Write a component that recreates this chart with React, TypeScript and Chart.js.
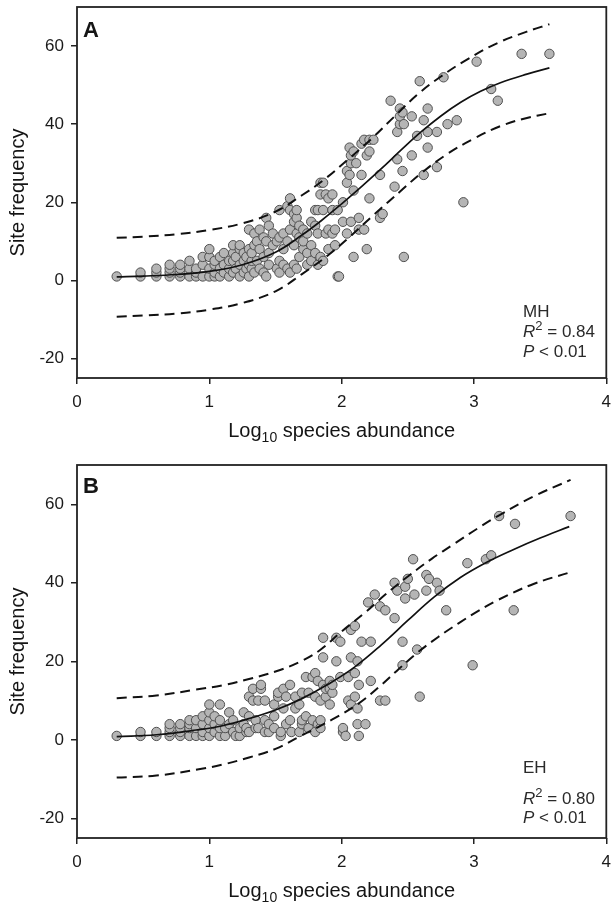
import React, { useEffect, useRef } from "react";
import { Chart, registerables } from "chart.js";

Chart.register(...registerables);

const FONT = '"Liberation Sans", Arial, Helvetica, sans-serif';

const xTicks = [0, 1, 2, 3, 4];
const yTicks = [-20, 0, 20, 40, 60];

// ---------- Panel A (MH) ----------
const pointsA: [number, number][] = [
  [0.30, 1],
  [0.48, 1], [0.48, 2],
  [0.60, 1], [0.60, 2], [0.60, 3],
  [0.70, 1], [0.70, 2], [0.70, 3], [0.70, 4],
  [0.78, 1], [0.78, 2], [0.78, 3], [0.78, 4],
  [0.85, 1], [0.85, 3], [0.85, 5],
  [0.90, 1], [0.90, 2], [0.90, 3],
  [0.95, 1], [0.95, 4], [0.95, 6],
  [1.00, 1], [1.00, 3], [1.00, 6], [1.00, 8],
  [1.04, 1], [1.04, 2], [1.04, 4], [1.04, 5],
  [1.08, 1], [1.08, 3], [1.08, 6],
  [1.11, 2], [1.11, 4], [1.11, 7],
  [1.15, 1], [1.15, 3], [1.15, 5],
  [1.18, 2], [1.18, 5], [1.18, 7], [1.18, 9],
  [1.20, 3], [1.20, 6],
  [1.23, 1], [1.23, 4], [1.23, 8], [1.23, 9],
  [1.26, 2], [1.26, 5], [1.26, 7],
  [1.28, 3], [1.28, 6],
  [1.30, 1], [1.30, 4], [1.30, 8], [1.30, 13],
  [1.32, 3], [1.32, 5], [1.32, 7],
  [1.34, 2], [1.34, 9], [1.34, 12],
  [1.36, 5], [1.36, 10],
  [1.38, 3], [1.38, 8], [1.38, 13],
  [1.41, 2], [1.41, 6], [1.41, 11],
  [1.43, 1], [1.43, 10], [1.43, 16],
  [1.45, 4], [1.45, 7], [1.45, 14],
  [1.48, 9], [1.48, 12],
  [1.51, 3], [1.51, 10],
  [1.53, 2], [1.53, 5], [1.53, 11], [1.53, 18],
  [1.56, 4], [1.56, 8], [1.56, 12],
  [1.59, 3], [1.59, 10], [1.59, 19],
  [1.61, 2], [1.61, 13], [1.61, 18], [1.61, 21],
  [1.64, 4], [1.64, 9], [1.64, 15], [1.64, 17],
  [1.66, 3], [1.66, 12], [1.66, 16], [1.66, 18],
  [1.68, 6], [1.68, 11], [1.68, 14],
  [1.71, 8], [1.71, 10], [1.71, 13],
  [1.74, 4], [1.74, 7], [1.74, 12],
  [1.77, 5], [1.77, 9], [1.77, 15],
  [1.80, 7], [1.80, 14], [1.80, 18],
  [1.82, 4], [1.82, 12], [1.82, 18],
  [1.84, 6], [1.84, 22], [1.84, 25],
  [1.86, 5], [1.86, 18], [1.86, 25],
  [1.88, 12], [1.88, 22],
  [1.90, 8], [1.90, 13], [1.90, 21],
  [1.93, 12], [1.93, 18], [1.93, 22],
  [1.95, 9], [1.95, 13],
  [1.97, 1], [1.98, 1], [1.97, 18],
  [2.01, 20], [2.01, 15],
  [2.04, 12], [2.04, 25], [2.04, 28],
  [2.06, 27], [2.06, 34],
  [2.07, 15], [2.07, 30], [2.07, 32],
  [2.09, 6], [2.09, 23], [2.09, 33],
  [2.11, 30],
  [2.13, 16], [2.13, 13],
  [2.15, 27], [2.15, 35],
  [2.17, 13], [2.17, 36],
  [2.19, 8], [2.19, 32],
  [2.21, 21], [2.21, 33], [2.21, 36],
  [2.24, 36],
  [2.29, 27], [2.29, 16],
  [2.31, 17],
  [2.37, 46],
  [2.40, 24],
  [2.42, 38], [2.42, 31],
  [2.44, 40], [2.44, 42], [2.44, 44],
  [2.46, 28], [2.46, 43],
  [2.47, 6], [2.47, 40],
  [2.53, 32], [2.53, 42],
  [2.57, 37],
  [2.59, 51],
  [2.62, 27], [2.62, 41],
  [2.65, 34], [2.65, 38], [2.65, 44],
  [2.72, 29], [2.72, 38],
  [2.77, 52],
  [2.80, 40],
  [2.87, 41],
  [2.92, 20],
  [3.02, 56],
  [3.13, 49],
  [3.18, 46],
  [3.36, 58],
  [3.57, 58],
];

const fitAX = [0.3, 0.5, 0.75, 1.0, 1.25, 1.5, 1.7, 1.85, 2.0, 2.15, 2.3, 2.45, 2.6, 2.75, 2.9, 3.05, 3.2, 3.4, 3.57];
const fitAY = [0.9, 1.1, 1.5, 2.3, 4.0, 7.2, 11.6, 15.4, 19.6, 24.0, 28.6, 33.4, 38.0, 42.1, 45.6, 48.4, 50.6, 52.8, 54.4];
const upperAX = [0.3, 0.5, 0.75, 1.0, 1.25, 1.5, 1.7, 1.86, 2.05, 2.23, 2.4, 2.58, 2.75, 2.95, 3.18, 3.4, 3.57];
const upperAY = [10.9, 11.2, 11.8, 12.9, 14.6, 17.6, 21.8, 25.6, 31.0, 36.4, 42.0, 47.8, 52.2, 56.6, 60.8, 63.7, 65.6];
const lowerAX = [0.3, 0.5, 0.75, 1.0, 1.25, 1.5, 1.7, 1.9, 2.05, 2.25, 2.45, 2.6, 2.8, 3.0, 3.2, 3.4, 3.57];
const lowerAY = [-9.3, -9.0, -8.5, -7.5, -5.8, -2.8, 1.6, 6.5, 10.8, 17.0, 23.0, 27.4, 32.4, 36.3, 39.5, 41.6, 42.8];

// ---------- Panel B (EH) ----------
const pointsB: [number, number][] = [
  [0.30, 1],
  [0.48, 1], [0.48, 2],
  [0.60, 1], [0.60, 2],
  [0.70, 1], [0.70, 2], [0.70, 3], [0.70, 4],
  [0.78, 1], [0.78, 2], [0.78, 3], [0.78, 4],
  [0.85, 1], [0.85, 3], [0.85, 4], [0.85, 5],
  [0.90, 1], [0.90, 3], [0.90, 5],
  [0.95, 1], [0.95, 2], [0.95, 4], [0.95, 6],
  [1.00, 1], [1.00, 3], [1.00, 5], [1.00, 7], [1.00, 9],
  [1.04, 2], [1.04, 4], [1.04, 6],
  [1.08, 1], [1.08, 3], [1.08, 5], [1.08, 9],
  [1.12, 1], [1.12, 3],
  [1.15, 4], [1.15, 7],
  [1.18, 2], [1.18, 5],
  [1.20, 1],
  [1.23, 1], [1.23, 3],
  [1.26, 4], [1.26, 7],
  [1.28, 2], [1.28, 3],
  [1.30, 2], [1.30, 6], [1.30, 11],
  [1.33, 10], [1.33, 13],
  [1.35, 3], [1.35, 5],
  [1.37, 3], [1.37, 10],
  [1.39, 13], [1.39, 14],
  [1.42, 2], [1.42, 5], [1.42, 10],
  [1.45, 2], [1.45, 4],
  [1.49, 3], [1.49, 6], [1.49, 9],
  [1.52, 11], [1.52, 12],
  [1.54, 1], [1.54, 2],
  [1.56, 8], [1.56, 13],
  [1.58, 4], [1.58, 11],
  [1.61, 5], [1.61, 14],
  [1.62, 2],
  [1.65, 8], [1.65, 11],
  [1.68, 2], [1.68, 9],
  [1.70, 4], [1.70, 5], [1.70, 12],
  [1.73, 6], [1.73, 16],
  [1.75, 3], [1.75, 12],
  [1.78, 5], [1.78, 16],
  [1.80, 2], [1.80, 11], [1.80, 17],
  [1.82, 4], [1.82, 15],
  [1.84, 3], [1.84, 5], [1.84, 10],
  [1.86, 14], [1.86, 21], [1.86, 26],
  [1.88, 11], [1.88, 13],
  [1.91, 9], [1.91, 13], [1.91, 15],
  [1.93, 12], [1.93, 14],
  [1.96, 20], [1.96, 26],
  [1.99, 16], [1.99, 25],
  [2.01, 2], [2.01, 3],
  [2.03, 1],
  [2.05, 10], [2.05, 16],
  [2.07, 9], [2.07, 28], [2.07, 21],
  [2.10, 11], [2.10, 29], [2.10, 17],
  [2.12, 4], [2.12, 8], [2.12, 20],
  [2.13, 1], [2.13, 14],
  [2.15, 25],
  [2.18, 4],
  [2.20, 35],
  [2.22, 15], [2.22, 25],
  [2.25, 37],
  [2.29, 10], [2.29, 34],
  [2.33, 10], [2.33, 33],
  [2.40, 31], [2.40, 40],
  [2.42, 38],
  [2.46, 25], [2.46, 19],
  [2.48, 36], [2.48, 39],
  [2.50, 41],
  [2.54, 46],
  [2.55, 37],
  [2.57, 23],
  [2.59, 11],
  [2.64, 38], [2.64, 42],
  [2.66, 41],
  [2.72, 40],
  [2.74, 38],
  [2.79, 33],
  [2.95, 45],
  [2.99, 19],
  [3.09, 46],
  [3.13, 47],
  [3.19, 57],
  [3.30, 33],
  [3.31, 55],
  [3.73, 57],
];

const fitBX = [0.3, 0.6, 0.9, 1.1, 1.3, 1.5, 1.7, 1.9, 2.1, 2.3, 2.5, 2.7, 2.9, 3.1, 3.3, 3.5, 3.72];
const fitBY = [0.8, 1.3, 2.5, 3.6, 5.4, 7.6, 10.5, 14.2, 18.6, 24.2, 30.4, 36.4, 41.4, 45.3, 48.5, 51.4, 54.3];
const upperBX = [0.3, 0.6, 0.9, 1.1, 1.3, 1.5, 1.68, 1.83, 2.0, 2.18, 2.33, 2.5, 2.68, 2.85, 3.03, 3.18, 3.45, 3.73];
const upperBY = [10.6, 11.3, 12.8, 13.9, 15.5, 17.4, 19.8, 22.7, 27.6, 32.5, 37.0, 41.6, 46.1, 49.9, 53.9, 57.0, 62.0, 66.2];
const lowerBX = [0.3, 0.6, 0.92, 1.1, 1.3, 1.5, 1.68, 1.93, 2.13, 2.28, 2.43, 2.58, 2.73, 2.88, 3.03, 3.18, 3.45, 3.73];
const lowerBY = [-9.6, -9.1, -7.5, -6.3, -4.5, -2.3, 0.8, 5.2, 9.3, 13.4, 18.0, 22.4, 26.2, 29.6, 32.8, 35.6, 39.7, 42.7];

const statsA = { letter: "A", site: "MH", r2: "0.84", p: "< 0.01" };
const statsB = { letter: "B", site: "EH", r2: "0.80", p: "< 0.01" };

type PanelCfg = {
  points: [number, number][];
  fitX: number[]; fitY: number[];
  upX: number[]; upY: number[];
  loX: number[]; loY: number[];
  stats: { letter: string; site: string; r2: string; p: string };
  height: number;
  padTop: number;
  xAxisH: number;
  letterY: number;
  titleY: number;
  annX: number;
  annY: number[];
};

const decorPlugin = {
  id: "decor",
  afterDraw(chart: any, _args: any, opts: any) {
    const { ctx } = chart;
    const { left, right, top, bottom } = chart.chartArea;
    ctx.save();
    // frame
    ctx.strokeStyle = "#222";
    ctx.lineWidth = 1.8;
    ctx.strokeRect(left, top, right - left, bottom - top);
    ctx.fillStyle = "#151515";
    ctx.textAlign = "left";
    ctx.textBaseline = "alphabetic";
    // panel letter
    ctx.font = `bold 22px ${FONT}`;
    ctx.fillText(opts.letter, left + 6, opts.letterY);
    // x title with subscript
    const big = `20px ${FONT}`;
    const small = `14px ${FONT}`;
    ctx.font = big;
    const w1 = ctx.measureText("Log").width;
    const w3 = ctx.measureText(" species abundance").width;
    ctx.font = small;
    const w2 = ctx.measureText("10").width;
    let x = (left + right) / 2 - (w1 + w2 + w3) / 2;
    const yb = opts.titleY;
    ctx.font = big;
    ctx.fillText("Log", x, yb);
    x += w1;
    ctx.font = small;
    ctx.fillText("10", x, yb + 5);
    x += w2;
    ctx.font = big;
    ctx.fillText(" species abundance", x, yb);
    // annotation
    ctx.fillStyle = "#2a2a2a";
    const reg = `17px ${FONT}`;
    const ita = `italic 17px ${FONT}`;
    const sup = `13px ${FONT}`;
    const ax = opts.annX;
    ctx.font = reg;
    ctx.fillText(opts.site, ax, opts.annY[0]);
    ctx.font = ita;
    ctx.fillText("R", ax, opts.annY[1]);
    let xx = ax + ctx.measureText("R").width;
    ctx.font = sup;
    ctx.fillText("2", xx, opts.annY[1] - 7);
    xx += ctx.measureText("2").width;
    ctx.font = reg;
    ctx.fillText(" = " + opts.r2, xx, opts.annY[1]);
    ctx.font = ita;
    ctx.fillText("P", ax, opts.annY[2]);
    xx = ax + ctx.measureText("P").width;
    ctx.font = reg;
    ctx.fillText(" " + opts.p, xx, opts.annY[2]);
    ctx.restore();
  },
};

function toXY(xs: number[], ys: number[]) {
  return xs.map((x, i) => ({ x, y: ys[i] }));
}

function Panel({ cfg }: { cfg: PanelCfg }) {
  const ref = useRef<HTMLCanvasElement | null>(null);
  useEffect(() => {
    if (!ref.current) return;
    const lineBase = {
      type: "scatter" as const,
      showLine: true,
      pointRadius: 0,
      pointHoverRadius: 0,
      fill: false,
      borderColor: "#111",
      tension: 0.4,
      order: 0,
    };
    const chart = new Chart(ref.current, {
      type: "scatter",
      data: {
        datasets: [
          { ...lineBase, data: toXY(cfg.fitX, cfg.fitY), borderWidth: 1.7 },
          { ...lineBase, data: toXY(cfg.upX, cfg.upY), borderWidth: 2, borderDash: [10, 6] },
          { ...lineBase, data: toXY(cfg.loX, cfg.loY), borderWidth: 2, borderDash: [10, 6] },
          {
            type: "scatter",
            data: cfg.points.map(([x, y]) => ({ x, y })),
            pointRadius: 4.7,
            backgroundColor: "#b5b5b5",
            borderColor: "#505050",
            borderWidth: 1,
            order: 1,
          },
        ],
      },
      options: {
        responsive: false,
        animation: false,
        events: [],
        layout: { padding: { left: 0, right: 3, top: cfg.padTop, bottom: 0 } },
        plugins: {
          legend: { display: false },
          tooltip: { enabled: false },
          decor: {
            letter: cfg.stats.letter,
            site: cfg.stats.site,
            r2: cfg.stats.r2,
            p: cfg.stats.p,
            letterY: cfg.letterY,
            titleY: cfg.titleY,
            annX: cfg.annX,
            annY: cfg.annY,
          },
        } as any,
        scales: {
          x: {
            type: "linear",
            min: 0,
            max: 4,
            afterBuildTicks: (s: any) => {
              s.ticks = xTicks.map((v) => ({ value: v }));
            },
            afterFit: (s: any) => {
              s.height = cfg.xAxisH;
              s.paddingLeft = 0;
              s.paddingRight = 0;
            },
            border: { display: false },
            grid: {
              display: true,
              drawOnChartArea: false,
              drawTicks: true,
              tickLength: 6,
              color: "#222",
              lineWidth: 1.5,
            },
            ticks: {
              color: "#1a1a1a",
              font: { size: 17, family: FONT },
              padding: 8,
              maxRotation: 0,
              autoSkip: false,
            },
          },
          y: {
            type: "linear",
            min: -25,
            max: 70,
            afterBuildTicks: (s: any) => {
              s.ticks = yTicks.map((v) => ({ value: v }));
            },
            afterFit: (s: any) => {
              s.width = 77;
              s.paddingTop = 0;
              s.paddingBottom = 0;
            },
            border: { display: false },
            grid: {
              display: true,
              drawOnChartArea: false,
              drawTicks: true,
              tickLength: 6,
              color: "#222",
              lineWidth: 1.5,
            },
            ticks: {
              color: "#1a1a1a",
              font: { size: 17, family: FONT },
              padding: 7,
              autoSkip: false,
            },
            title: {
              display: true,
              text: "Site frequency",
              color: "#151515",
              font: { size: 20, family: FONT },
              padding: { top: 6, bottom: 0 },
            },
          },
        },
      } as any,
      plugins: [decorPlugin],
    });
    return () => chart.destroy();
  }, [cfg]);
  return (
    <canvas
      ref={ref}
      width={612}
      height={cfg.height}
      style={{ display: "block", width: 612, height: cfg.height }}
    />
  );
}

const cfgA: PanelCfg = {
  points: pointsA,
  fitX: fitAX, fitY: fitAY,
  upX: upperAX, upY: upperAY,
  loX: lowerAX, loY: lowerAY,
  stats: statsA,
  height: 450,
  padTop: 7,
  xAxisH: 72,
  letterY: 37,
  titleY: 437,
  annX: 523,
  annY: [317, 337, 357],
};

const cfgB: PanelCfg = {
  points: pointsB,
  fitX: fitBX, fitY: fitBY,
  upX: upperBX, upY: upperBY,
  loX: lowerBX, loY: lowerBY,
  stats: statsB,
  height: 454,
  padTop: 15,
  xAxisH: 66,
  letterY: 43,
  titleY: 447,
  annX: 523,
  annY: [323, 354, 373],
};

export default function App() {
  return (
    <div
      style={{
        position: "absolute",
        left: 0,
        top: 0,
        width: 612,
        height: 904,
        background: "#fff",
        overflow: "hidden",
      }}
    >
      <Panel cfg={cfgA} />
      <Panel cfg={cfgB} />
    </div>
  );
}
